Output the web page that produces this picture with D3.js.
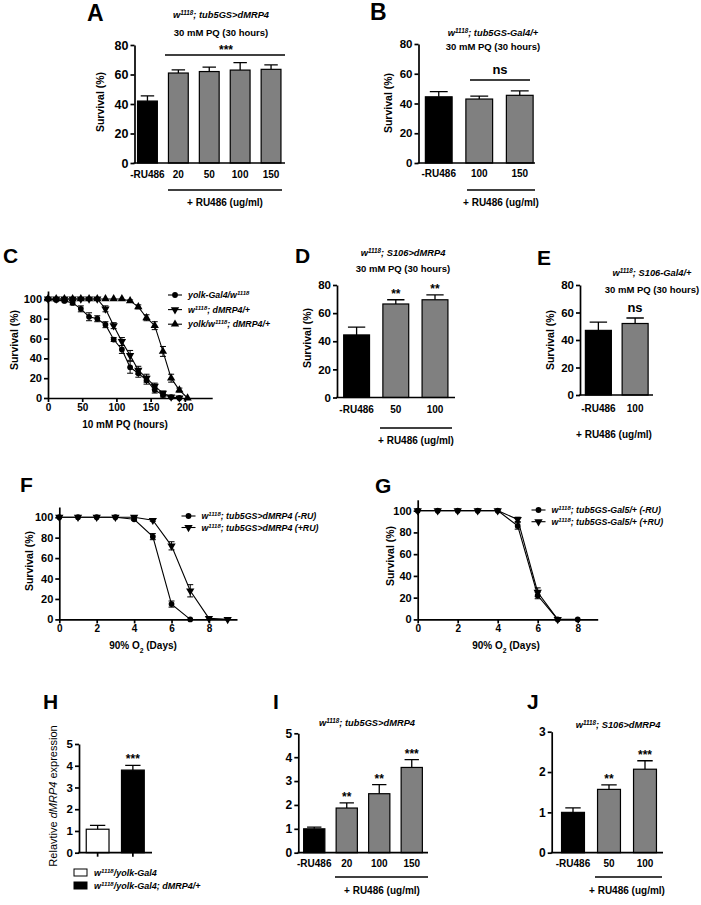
<!DOCTYPE html>
<html><head><meta charset="utf-8">
<script src="https://cdn.jsdelivr.net/npm/d3@7"></script>
<style>body{margin:0;background:#fff}svg text{font-family:"Liberation Sans",Arial,Helvetica,sans-serif}</style>
</head><body><svg id="fig" width="701" height="905"></svg>
<script>
// ---------- DATA ----------
const aCats = ["-RU486","20","50","100","150"];
const aVals = [42,61,62,63,63.5];
const aErrs = [3.5,2.2,3,5,3];
const bCats = ["-RU486","100","150"];
const bVals = [44.5,43,45.5];
const bErrs = [3.5,2,3];
const dCats = ["-RU486","50","100"];
const dVals = [44.5,66.5,69.5];
const dErrs = [5.5,3,3.5];
const dStars = ["","**","**"];
const eCats = ["-RU486","100"];
const eVals = [47,52];
const eErrs = [6,4];
const hCats = ["w1118/yolk-Gal4","w1118/yolk-Gal4; dMRP4/+"];
const hVals = [1.08,3.8];
const hErrs = [0.18,0.22];
const hStars = ["","***"];
const iCats = ["-RU486","20","100","150"];
const iVals = [1.0,1.87,2.47,3.57];
const iErrs = [0.07,0.22,0.38,0.33];
const iStars = ["","**","**","***"];
const jCats = ["-RU486","50","100"];
const jVals = [1.0,1.57,2.07];
const jErrs = [0.11,0.11,0.21];
const jStars = ["","**","***"];
const survTicks = [0,20,40,60,80];
const lineSurvTicks = [0,20,40,60,80,100];
const hTicks = [0,1,2,3,4,5];
const iTicks = [0,1,2,3,4,5];
const jTicks = [0,1,2,3];

const cHours = [0,12,24,36,48,60,72,84,96,108,120,132,144,156,168,180,192,204];
const cTicks = [0,50,100,150,200];
const cYolk    = [100,99,98,96,90,82,80,74,59,49,31,25,18,8,3,1,0];
const cYolkErr = [0,1,1,2,3,4,3,3,2,4,6,4,4,3,2,1,0];
const cDmrp    = [100,100,100,100,100,100,100,90,73,57,43,28,20,12,5,1,0];
const cDmrpErr = [0,0,0,0,0,0,1,3,3,4,5,4,4,3,2,1,0];
const cBoth    = [100,100,100,100,100,100,100,100,100,100,98,92,81,73,47,20,8,0];
const cBothErr = [0,0,0,0,0,0,0,0,0,0,1,2,3,4,5,4,2,0];
const cLabels = ["yolk-Gal4/w^1118^","w^1118^; dMRP4/+","yolk/w^1118^; dMRP4/+"];

const o2Days = [0,1,2,3,4,5,6,7,8,9];
const o2Ticks = [0,2,4,6,8];
const fMinus    = [100,100,100,100,98,81,15,0];
const fMinusErr = [0,0,0,0,1,3,3,0];
const fPlus     = [100,100,100,100,100,97,72,28,1,0];
const fPlusErr  = [0,0,0,0,0,1,4,6,1,0];
const fLabels = ["w^1118^; tub5GS>dMRP4 (-RU)","w^1118^; tub5GS>dMRP4 (+RU)"];
const gMinus    = [100,100,100,100,100,86,22,0,0];
const gMinusErr = [0,0,0,0,0,3,3,0,0];
const gPlus     = [100,100,100,100,100,92,25,0];
const gPlusErr  = [0,0,0,0,0,2,4,0];
const gLabels = ["w^1118^; tub5GS-Gal5/+ (-RU)","w^1118^; tub5GS-Gal5/+ (+RU)"];

// ---------- HELPERS ----------
const svg = d3.select("#fig");
const FONT = "'Liberation Sans', Arial, Helvetica, sans-serif";
const AX = 1.7;

function rich(t, str) {
  // ^..^ superscript, _.._ subscript, |..| italic toggle
  let italic = false;
  const parts = str.split(/(\^[^^]*\^|_[^_]*_|\|)/).filter(s => s.length);
  parts.forEach(s => {
    if (s === "|") { italic = !italic; return; }
    let sp;
    if (s[0] === "^" && s.length > 1 && s[s.length-1] === "^") {
      sp = t.append("tspan").attr("baseline-shift","super").attr("font-size","68%").text(s.slice(1,-1));
    } else if (s[0] === "_" && s.length > 1 && s[s.length-1] === "_") {
      sp = t.append("tspan").attr("baseline-shift","sub").attr("font-size","68%").text(s.slice(1,-1));
    } else {
      sp = t.append("tspan").text(s);
    }
    if (italic) sp.attr("font-style","italic");
  });
}
function label(x, y, str, o = {}) {
  const t = svg.append("text").attr("x", x).attr("y", y)
    .attr("font-size", o.size || 9)
    .attr("font-weight", o.bold ? "bold" : "normal")
    .attr("font-style", o.italic ? "italic" : "normal")
    .attr("text-anchor", o.anchor || "middle").attr("fill", "#000");
  if (o.rotate) t.attr("transform", `rotate(-90,${x},${y})`).attr("dy","0.35em");
  rich(t, str);
  return t;
}
function hline(x1, x2, y, w = 1.5) {
  svg.append("line").attr("x1", x1).attr("x2", x2).attr("y1", y).attr("y2", y)
    .attr("stroke", "#000").attr("stroke-width", w);
}
function styleAxis(a, size) {
  a.attr("font-family", FONT).attr("font-size", size);
  a.select(".domain").attr("stroke-width", AX);
  a.selectAll(".tick line").attr("stroke-width", AX);
  a.selectAll(".tick text").attr("font-weight", "bold");
}

function barPanel(o) {
  const g = svg.append("g");
  const y = d3.scaleLinear().domain([0, o.ymax]).range([o.y0, o.yTop]);
  const x = d3.scaleBand().domain(o.cats).range(o.band).paddingInner(o.pad).paddingOuter(o.pad / 2);
  const bw = x.bandwidth();
  const cx = i => x(o.cats[i]) + bw / 2;
  g.selectAll(null).data(o.vals).join("path")
    .attr("d", (v, i) => { const t = y(v + o.errs[i]), b = y(v), c = bw * 0.32;
      return `M${cx(i)},${b}V${t}M${cx(i)-c},${t}H${cx(i)+c}`; })
    .attr("stroke", "#000").attr("stroke-width", 1.3).attr("fill", "none");
  g.selectAll(null).data(o.vals).join("rect")
    .attr("x", (v, i) => x(o.cats[i]) + 0.6).attr("y", v => y(v))
    .attr("width", bw - 1.2).attr("height", v => y(0) - y(v))
    .attr("fill", (v, i) => o.fills[i]).attr("stroke", "#000").attr("stroke-width", 1.2);
  if (o.stars) {
    g.selectAll(null).data(o.vals).join("text")
      .attr("x", (v, i) => cx(i)).attr("y", (v, i) => y(v + o.errs[i]) - 2)
      .attr("text-anchor", "middle").attr("font-size", 12).attr("font-weight", "bold")
      .attr("font-family", FONT).text((v, i) => o.stars[i]);
  }
  g.append("g").attr("transform", `translate(${o.x0},0)`)
    .call(d3.axisLeft(y).tickValues(o.yticks).tickSizeOuter(0).tickSizeInner(4).tickPadding(2).tickFormat(d3.format("d")))
    .call(a => styleAxis(a, o.ysize || 11.5));
  const xa = g.append("g").attr("transform", `translate(0,${o.y0})`)
    .call(d3.axisBottom(x).tickSize(o.xtick || 0).tickPadding(o.xpad).tickFormat(o.noXLabels ? () => "" : d => d))
    .call(a => styleAxis(a, 10));
  xa.select(".domain").remove();
  g.append("line").attr("x1", o.x0 - AX / 2).attr("x2", o.x1).attr("y1", o.y0).attr("y2", o.y0)
    .attr("stroke", "#000").attr("stroke-width", AX);
  return { x, y };
}

function symPath(s) {
  if (s === "circle") return d3.symbol(d3.symbolCircle, 26)();
  return d3.symbol(d3.symbolTriangle, 30)();
}

function linePanel(o) {
  const g = svg.append("g");
  const x = d3.scaleLinear().domain(o.xdom).range(o.xr);
  const y = d3.scaleLinear().domain(o.ydom).range(o.yr);
  o.series.forEach(s => {
    const pts = s.ys.map((v, i) => ({ x: s.xs[i], y: v, e: s.es[i] }));
    g.append("path").datum(pts).attr("d", d3.line().x(d => x(d.x)).y(d => y(d.y)))
      .attr("fill", "none").attr("stroke", "#000").attr("stroke-width", 1.1);
    g.selectAll(null).data(pts.filter(d => d.e > 0)).join("path")
      .attr("d", d => { const c = x(d.x), w = 3, t = y(d.y + d.e), b = y(Math.max(0, d.y - d.e));
        return `M${c},${b}V${t}M${c-w},${t}H${c+w}M${c-w},${b}H${c+w}`; })
      .attr("stroke", "#000").attr("stroke-width", 1).attr("fill", "none");
    g.selectAll(null).data(pts).join("path")
      .attr("transform", d => `translate(${x(d.x)},${y(d.y)})${s.sym === "down" ? " rotate(180)" : ""}`)
      .attr("d", symPath(s.sym)).attr("fill", "#000");
  });
  g.append("g").attr("transform", `translate(${o.xr[0]},0)`)
    .call(d3.axisLeft(y).tickValues(o.yticks).tickSizeOuter(0).tickSizeInner(4).tickPadding(2).tickFormat(d3.format("d")))
    .call(a => styleAxis(a, 11));
  g.append("g").attr("transform", `translate(0,${o.yr[0]})`)
    .call(d3.axisBottom(x).tickValues(o.xticks).tickSizeOuter(0).tickSizeInner(4).tickPadding(2).tickFormat(d3.format("d")))
    .call(a => styleAxis(a, 10));
  const L = o.legend;
  o.series.forEach((s, i) => {
    const yy = L.y + i * L.dy;
    g.append("line").attr("x1", L.x).attr("x2", L.x + 14).attr("y1", yy).attr("y2", yy)
      .attr("stroke", "#000").attr("stroke-width", 1.1);
    g.append("path").attr("transform", `translate(${L.x + 7},${yy})${s.sym === "down" ? " rotate(180)" : ""}`)
      .attr("d", symPath(s.sym)).attr("fill", "#000");
    label(L.x + 20, yy + 3, L.labels[i], { size: 8.8, anchor: "start", bold: true, italic: true });
  });
}

const GREY = "#808080";
const TI = { size: 9.3, bold: true, italic: true };

// ---------- PANEL A ----------
label(87, 21, "A", { size: 23, bold: true, anchor: "start" });
label(221, 18, "w^1118^; tub5GS>dMRP4", TI);
label(221, 36, "30 mM PQ (30 hours)", { size: 9.5, bold: true });
barPanel({ cats: aCats, vals: aVals, errs: aErrs, fills: [ "#000", GREY, GREY, GREY, GREY ],
  ymax: 80, yticks: survTicks, y0: 163, yTop: 45, x0: 134.5, x1: 285, band: [132, 286.5], pad: 0.32, xpad: 8, ysize: 12.5 });
label(226, 54, "***", { size: 12, bold: true });
hline(165, 285, 55);
hline(168, 282, 190);
label(225, 206, "+ RU486 (ug/ml)", { size: 10, bold: true });
label(100, 102, "Survival (%)", { size: 10.5, bold: true, rotate: true });

// ---------- PANEL B ----------
label(370, 20, "B", { size: 23, bold: true, anchor: "start" });
label(493, 36, "w^1118^; tub5GS-Gal4/+", TI);
label(493, 50, "30 mM PQ (30 hours)", { size: 9.5, bold: true });
barPanel({ cats: bCats, vals: bVals, errs: bErrs, fills: [ "#000", GREY, GREY ],
  ymax: 80, yticks: survTicks, y0: 163, yTop: 44, x0: 418.5, x1: 535, band: [418.5, 540], pad: 0.31, xpad: 7 });
label(500, 74, "ns", { size: 13, bold: true });
hline(470, 530, 80);
hline(467, 535, 190);
label(501, 206, "+ RU486 (ug/ml)", { size: 10, bold: true });
label(388, 103, "Survival (%)", { size: 10.5, bold: true, rotate: true });

// ---------- PANEL C ----------
label(3, 263, "C", { size: 21, bold: true, anchor: "start" });
linePanel({
  xdom: [0, 240], xr: [48, 212.2], ydom: [0, 108], yr: [398, 291],
  xticks: cTicks, yticks: lineSurvTicks,
  series: [
    { xs: cHours, ys: cYolk, es: cYolkErr, sym: "circle" },
    { xs: cHours, ys: cDmrp, es: cDmrpErr, sym: "down" },
    { xs: cHours, ys: cBoth, es: cBothErr, sym: "up" }
  ],
  legend: { x: 168, y: 295, dy: 14.6, labels: cLabels }
});
label(14, 340, "Survival (%)", { size: 10.5, bold: true, rotate: true });
label(125, 428, "10 mM PQ (hours)", { size: 10, bold: true });

// ---------- PANEL D ----------
label(295, 263, "D", { size: 21, bold: true, anchor: "start" });
label(403, 256, "w^1118^; S106>dMRP4", TI);
label(403, 272, "30 mM PQ (30 hours)", { size: 9.5, bold: true });
barPanel({ cats: dCats, vals: dVals, errs: dErrs, fills: [ "#000", GREY, GREY ], stars: dStars,
  ymax: 80, yticks: survTicks, y0: 397.5, yTop: 285, x0: 337, x1: 455, band: [337, 454.6], pad: 0.31, xpad: 8 });
hline(380, 452, 428);
label(416, 444, "+ RU486 (ug/ml)", { size: 10, bold: true });
label(307, 338, "Survival (%)", { size: 10.5, bold: true, rotate: true });

// ---------- PANEL E ----------
label(537, 265, "E", { size: 21, bold: true, anchor: "start" });
label(652, 276, "w^1118^; S106-Gal4/+", TI);
label(652, 293, "30 mM PQ (30 hours)", { size: 9.5, bold: true });
barPanel({ cats: eCats, vals: eVals, errs: eErrs, fills: [ "#000", GREY ],
  ymax: 80, yticks: survTicks, y0: 395, yTop: 285, x0: 580, x1: 653, band: [580, 653.5], pad: 0.26, xpad: 10 });
label(635, 312, "ns", { size: 13, bold: true });
label(614, 438, "+ RU486 (ug/ml)", { size: 10, bold: true });
label(550, 340, "Survival (%)", { size: 10.5, bold: true, rotate: true });

// ---------- PANEL F ----------
label(20, 492, "F", { size: 21, bold: true, anchor: "start" });
linePanel({
  xdom: [0, 9.5], xr: [59.3, 237], ydom: [0, 110], yr: [619.4, 507],
  xticks: o2Ticks, yticks: lineSurvTicks,
  series: [
    { xs: o2Days, ys: fMinus, es: fMinusErr, sym: "circle" },
    { xs: o2Days, ys: fPlus, es: fPlusErr, sym: "down" }
  ],
  legend: { x: 181.5, y: 516, dy: 11.5, labels: fLabels }
});
label(29, 561, "Survival (%)", { size: 10.5, bold: true, rotate: true });
label(143, 649, "90% O_2_ (Days)", { size: 10, bold: true });

// ---------- PANEL G ----------
label(375, 493, "G", { size: 21, bold: true, anchor: "start" });
linePanel({
  xdom: [0, 9], xr: [417.7, 597.7], ydom: [0, 110], yr: [619.4, 499.8],
  xticks: o2Ticks, yticks: lineSurvTicks,
  series: [
    { xs: o2Days, ys: gMinus, es: gMinusErr, sym: "circle" },
    { xs: o2Days, ys: gPlus, es: gPlusErr, sym: "down" }
  ],
  legend: { x: 531.5, y: 510, dy: 11.7, labels: gLabels }
});
label(390, 556, "Survival (%)", { size: 10.5, bold: true, rotate: true });
label(506, 649, "90% O_2_ (Days)", { size: 10, bold: true });

// ---------- PANEL H ----------
label(43, 709, "H", { size: 21, bold: true, anchor: "start" });
barPanel({ cats: hCats, vals: hVals, errs: hErrs, fills: [ "#fff", "#000" ], stars: hStars,
  ymax: 5, yticks: hTicks, y0: 852.7, yTop: 744, x0: 79, x1: 152, band: [80, 150.5], pad: 0.32, xpad: 0, xtick: 4, noXLabels: true });
label(53, 796, "Relavtive |dMRP4| expression", { size: 11, rotate: true });
const hFills = ["#fff", "#000"];
const hLeg = ["w^1118^/yolk-Gal4", "w^1118^/yolk-Gal4; dMRP4/+"];
hCats.forEach((c, i) => {
  svg.append("rect").attr("x", 74).attr("y", 869 + i * 13).attr("width", 13).attr("height", 7)
    .attr("fill", hFills[i]).attr("stroke", "#000").attr("stroke-width", 1);
  label(94, 876 + i * 13, hLeg[i], { size: 9, anchor: "start", bold: true, italic: true });
});

// ---------- PANEL I ----------
label(273, 709, "I", { size: 21, bold: true, anchor: "start" });
label(367, 726, "w^1118^; tub5GS>dMRP4", TI);
barPanel({ cats: iCats, vals: iVals, errs: iErrs, fills: [ "#000", GREY, GREY, GREY ], stars: iStars,
  ymax: 5, yticks: iTicks, y0: 852.7, yTop: 733.3, x0: 298.3, x1: 428, band: [298, 428], pad: 0.31, xpad: 7, ysize: 12 });
hline(335, 428, 877);
label(382, 894, "+ RU486 (ug/ml)", { size: 10, bold: true });

// ---------- PANEL J ----------
label(527, 709, "J", { size: 21, bold: true, anchor: "start" });
label(618, 728, "w^1118^; S106>dMRP4", TI);
barPanel({ cats: jCats, vals: jVals, errs: jErrs, fills: [ "#000", GREY, GREY ], stars: jStars,
  ymax: 3, yticks: jTicks, y0: 852.7, yTop: 731.7, x0: 551.7, x1: 663, band: [555, 663], pad: 0.33, xpad: 7, ysize: 12 });
hline(595, 662, 877);
label(627, 894, "+ RU486 (ug/ml)", { size: 10, bold: true });
</script>
</body></html>
